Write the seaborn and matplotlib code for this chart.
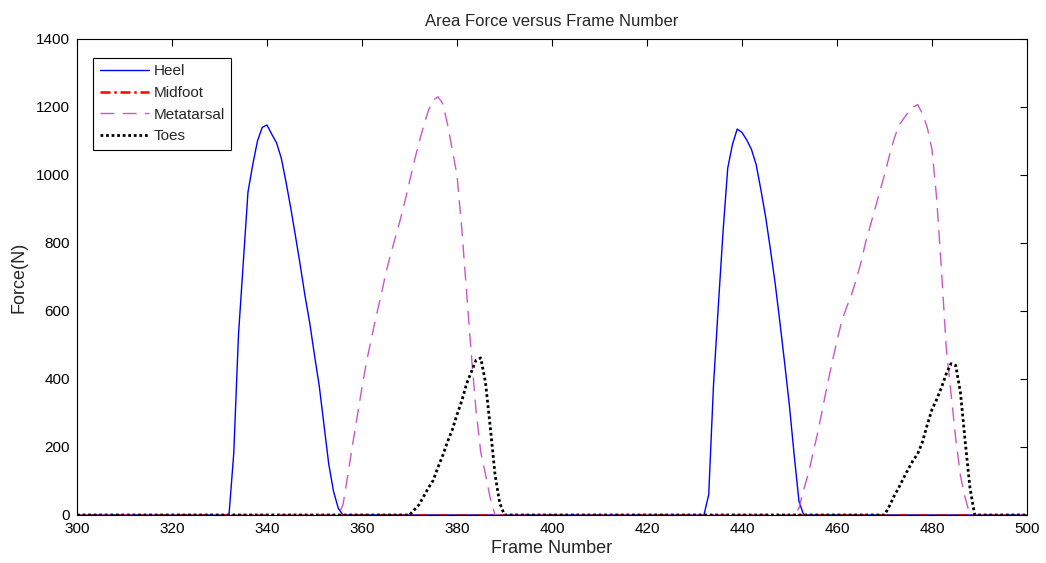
import numpy as np
import pandas as pd
import matplotlib
matplotlib.use("Agg")
import matplotlib.pyplot as plt
import seaborn as sns

# ---- data ----
frames = np.arange(300, 501)

heel_1_start = 332
heel_1 = [0, 180, 530, 740, 950, 1030, 1100, 1140, 1147, 1120, 1095, 1050, 980,
          903, 820, 735, 645, 565, 470, 380, 265, 150, 70, 20, 0]
heel_2_start = 432
heel_2 = [0, 60, 380, 610, 830, 1020, 1090, 1135, 1125, 1103, 1075, 1030, 955,
          875, 780, 680, 565, 445, 320, 175, 40, 0]

meta_1_start = 355
meta_1 = [0, 30, 115, 205, 290, 375, 454, 520, 585, 645, 710, 765, 815, 865, 920,
          980, 1040, 1095, 1145, 1190, 1220, 1230, 1210, 1150, 1075, 1000, 844,
          660, 475, 310, 185, 120, 50, 0]
meta_2_start = 451
meta_2 = [0, 20, 75, 122, 185, 245, 315, 385, 450, 512, 570, 610, 645, 690, 740,
          800, 850, 900, 950, 1000, 1055, 1105, 1145, 1165, 1185, 1200, 1207,
          1180, 1140, 1075, 930, 720, 493, 360, 225, 115, 50, 0]

toes_1_start = 370
toes_1 = [0, 15, 30, 55, 80, 102, 140, 175, 215, 250, 295, 335, 385, 420, 455,
          462, 390, 260, 120, 35, 0]
toes_2_start = 470
toes_2 = [0, 25, 55, 80, 108, 135, 160, 180, 215, 265, 310, 340, 375, 415, 445,
          440, 360, 215, 80, 0]

series_names = ["Heel", "Midfoot", "Metatarsal", "Toes"]
x_ticks = list(range(300, 501, 20))
y_ticks = list(range(0, 1401, 200))


def build(parts):
    v = np.zeros(len(frames))
    for start, vals in parts:
        i = start - frames[0]
        v[i:i + len(vals)] = vals
    return v


heel = build([(heel_1_start, heel_1), (heel_2_start, heel_2)])
midfoot = np.zeros(len(frames))
meta = build([(meta_1_start, meta_1), (meta_2_start, meta_2)])
toes = build([(toes_1_start, toes_1), (toes_2_start, toes_2)])

df = pd.DataFrame({"Frame": frames, "Heel": heel, "Midfoot": midfoot,
                   "Metatarsal": meta, "Toes": toes})

sns.set_theme(style="white")
plt.rcParams["font.family"] = ["Liberation Sans", "DejaVu Sans"]

fig = plt.figure(figsize=(10.46, 5.63), dpi=100)
ax = fig.add_axes([0.0736, 0.0853, 0.9082, 0.8455])

styles = {
    "Heel": dict(color="#0000ff", lw=1.0, linestyle="-"),
    "Midfoot": dict(color="#ff0000", lw=1.8, linestyle=(0, (4, 1.5, 1, 1.5))),
    "Metatarsal": dict(color="#cc55cc", lw=1.0, linestyle=(0, (10, 6))),
    "Toes": dict(color="#000000", lw=2.0, linestyle=(0, (1, 1))),
}
for name in series_names:
    sns.lineplot(data=df, x="Frame", y=name, ax=ax, label=name, **styles[name])

ax.set_xlim(300, 500)
ax.set_ylim(0, 1400)
ax.set_xticks(x_ticks)
ax.set_yticks(y_ticks)
ax.tick_params(direction="in", length=5, width=0.8, top=True, right=True,
               labelsize=11, colors="#000000")
ax.tick_params(axis="x", pad=5)
ax.tick_params(axis="y", pad=5)
for s in ax.spines.values():
    s.set_color("#000000")
    s.set_linewidth(0.8)
ax.set_xlabel("Frame Number", fontsize=13, labelpad=3)
ax.set_ylabel("Force(N)", fontsize=13, labelpad=6)
ax.set_title("Area Force versus Frame Number", fontsize=12, pad=9)

leg = ax.legend(loc="upper left", bbox_to_anchor=(0.0168, 0.961), fontsize=11,
                handlelength=3.2, handletextpad=0.3, labelspacing=0.5,
                borderpad=0.45, borderaxespad=0, frameon=True, fancybox=False,
                framealpha=1)
leg.get_frame().set_edgecolor("#000000")
leg.get_frame().set_linewidth(0.8)

fig.savefig("out.png", dpi=100, facecolor="white")
